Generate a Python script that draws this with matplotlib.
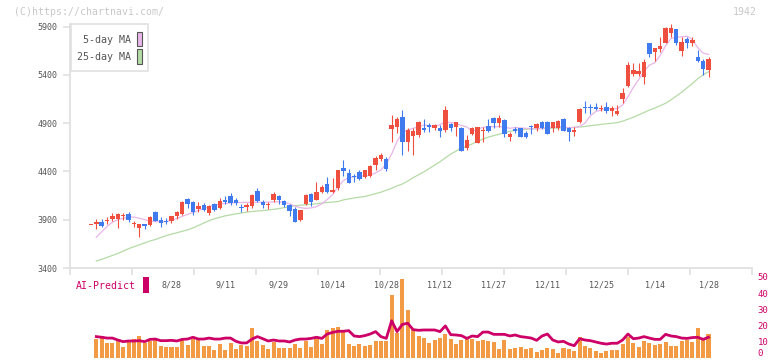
import numpy as np
import matplotlib
matplotlib.use('Agg')
import matplotlib.pyplot as plt
from matplotlib.patches import Rectangle
import matplotlib.transforms as mtransforms

nan = np.nan

# daily OHLC (index 0 .. 115)
opens = [3845, 3859, 3876, 3887, 3904, 3911, 3938, 3962, 3852, 3818,
         3859, 3845, 3980, 3897, 3887, 3887, 3942, 3962, 4114, 4083,
         4007, 4056, 3966, 4059, 4017, 4103, 4145, 4103, 4035, 4035,
         4041, 4197, 4086, 4052, 4104, 4148, 4093, 4052, 4010, 3896,
         4066, 4166, 4103, 4186, 4269, 4190, 4224, 4435, 4387, 4352,
         4393, 4345, 4352, 4466, 4525, 4525, 4839, 4856, 4960, 4708,
         4766, 4777, 4846, 4880, 4853, 4846, 4828, 4887, 4856, 4849,
         4639, 4784, 4698, 4815, 4870, 4956, 4905, 4932, 4760, 4836,
         4846, 4801, 4867, 4846, 4908, 4915, 4846, 4846, 4942, 4853,
         4804, 4908, 5063, 5063, 5063, 5046, 5063, 5029, 4994, 5146,
         5287, 5404, 5404, 5373, 5732, 5636, 5663, 5732, 5836, 5874,
         5646, 5770, 5732, 5587, 5546, 5449]
highs = [3848, 3907, 3907, 3931, 3966, 3966, 3966, 3976, 3890, 3855,
         3859, 3938, 3987, 3924, 3918, 3938, 3993, 4097, 4125, 4090,
         4087, 4069, 4049, 4073, 4128, 4145, 4179, 4121, 4059, 4076,
         4166, 4231, 4104, 4079, 4186, 4159, 4104, 4059, 4035, 4000,
         4166, 4179, 4293, 4259, 4342, 4335, 4414, 4518, 4421, 4373,
         4414, 4414, 4463, 4559, 4594, 4545, 4984, 4960, 5035, 4846,
         4846, 4925, 4942, 4897, 4890, 4880, 5080, 4904, 4915, 4856,
         4777, 4863, 4860, 4863, 4942, 4963, 4984, 4942, 4811, 4856,
         4853, 4818, 4880, 4898, 4922, 4922, 4915, 4932, 4949, 4856,
         4856, 5060, 5132, 5094, 5111, 5087, 5122, 5077, 5087, 5267,
         5536, 5525, 5518, 5560, 5732, 5674, 5787, 5898, 5926, 5874,
         5794, 5794, 5794, 5656, 5560, 5587]
lows = [3842, 3807, 3828, 3852, 3883, 3818, 3897, 3880, 3821, 3724,
        3800, 3838, 3883, 3821, 3859, 3862, 3904, 3952, 4021, 3952,
        3983, 3990, 3945, 3993, 4010, 4059, 4052, 4052, 3983, 3993,
        4024, 4086, 4024, 4010, 4086, 4059, 4035, 3941, 3879, 3890,
        4052, 4045, 4100, 4173, 4180, 4180, 4207, 4352, 4276, 4293,
        4311, 4335, 4338, 4414, 4511, 4404, 4708, 4801, 4570, 4614,
        4570, 4752, 4811, 4811, 4828, 4759, 4811, 4821, 4770, 4610,
        4622, 4777, 4695, 4708, 4811, 4853, 4863, 4753, 4718, 4794,
        4753, 4742, 4787, 4822, 4839, 4787, 4811, 4829, 4822, 4718,
        4770, 4901, 5001, 4991, 5035, 5029, 5008, 4977, 4984, 5104,
        5277, 5391, 5391, 5301, 5587, 5543, 5639, 5725, 5794, 5708,
        5598, 5674, 5698, 5529, 5398, 5380]
closes = [3845, 3876, 3838, 3897, 3938, 3959, 3952, 3893, 3862, 3855,
          3838, 3928, 3890, 3869, 3873, 3938, 3983, 4083, 4066, 3983,
          4042, 3997, 4042, 4004, 4093, 4086, 4069, 4069, 4017, 4052,
          4155, 4097, 4052, 4062, 4166, 4107, 4052, 3993, 3879, 3996,
          4155, 4079, 4186, 4238, 4190, 4210, 4414, 4407, 4283, 4338,
          4321, 4414, 4456, 4535, 4570, 4428, 4880, 4939, 4708, 4828,
          4815, 4915, 4828, 4856, 4880, 4821, 5035, 4846, 4908, 4614,
          4725, 4853, 4856, 4825, 4822, 4898, 4949, 4787, 4784, 4822,
          4760, 4760, 4856, 4891, 4846, 4787, 4908, 4922, 4822, 4808,
          4832, 5046, 5053, 5053, 5049, 5060, 5029, 5053, 5029, 5215,
          5501, 5449, 5439, 5536, 5612, 5674, 5698, 5888, 5888, 5732,
          5743, 5732, 5760, 5546, 5460, 5563]

ma5 = [nan, 3718, 3775, 3830, 3875, 3900, 3915, 3925, 3928, 3915,
       3900, 3885, 3880, 3878, 3880, 3895, 3912, 3935, 3955, 3975,
       3995, 4015, 4035, 4050, 4060, 4068, 4074, 4077, 4078, 4079,
       4080, 4080, 4081, 4082, 4084, 4086, 4080, 4065, 4040, 4025,
       4017, 4022, 4035, 4065, 4110, 4160, 4240, 4305, 4335, 4345,
       4352, 4355, 4360, 4385, 4414, 4480, 4580, 4710, 4800, 4830,
       4846, 4862, 4880, 4872, 4863, 4885, 4912, 4905, 4898, 4875,
       4860, 4815, 4840, 4855, 4863, 4863, 4863, 4860, 4846, 4854,
       4850, 4846, 4843, 4839, 4845, 4853, 4858, 4863, 4860, 4853,
       4855, 4865, 4900, 4975, 5020, 5035, 5049, 5049, 5050, 5087,
       5173, 5270, 5350, 5440, 5500, 5525, 5600, 5700, 5775, 5790,
       5794, 5800, 5765, 5680, 5625, 5611]
ma25 = [nan, 3472, 3490, 3510, 3530, 3550, 3575, 3600, 3620, 3640,
        3660, 3680, 3695, 3715, 3735, 3750, 3765, 3780, 3795, 3815,
        3840, 3865, 3890, 3910, 3925, 3940, 3950, 3960, 3970, 3978,
        3985, 3990, 3995, 4000, 4007, 4015, 4025, 4035, 4045, 4050,
        4055, 4060, 4065, 4072, 4078, 4083, 4088, 4105, 4115, 4125,
        4133, 4140, 4155, 4170, 4185, 4205, 4225, 4250, 4270, 4300,
        4335, 4365, 4395, 4430, 4465, 4500, 4540, 4580, 4610, 4645,
        4660, 4685, 4710, 4735, 4755, 4770, 4785, 4800, 4815, 4825,
        4832, 4836, 4840, 4842, 4844, 4846, 4848, 4849, 4851, 4853,
        4856, 4860, 4865, 4873, 4880, 4887, 4893, 4898, 4905, 4920,
        4940, 4960, 4985, 5010, 5035, 5055, 5080, 5105, 5140, 5180,
        5220, 5265, 5310, 5360, 5400, 5432]

volume = [nan, 11.7, 13.6, 9.5, 9.5, 11.1, 7.0, 9.7, 11.7, 13.6,
          9.1, 10.3, 11.1, 7.4, 6.8, 6.8, 6.8, 11.1, 8.2, 11.7,
          11.1, 7.4, 7.4, 4.9, 8.8, 4.9, 9.5, 5.6, 8.2, 7.4,
          18.5, 10.3, 8.2, 5.6, 9.7, 6.2, 6.2, 6.2, 8.8, 6.2,
          10.7, 7.0, 13.2, 8.8, 17.3, 18.5, 19.3, 15.8, 8.6, 7.4,
          8.6, 7.4, 8.2, 10.7, 10.3, 10.7, 38.9, 15.6, 48.8, 29.6,
          18.0, 13.7, 12.3, 9.1, 11.1, 12.3, 14.8, 11.7, 8.6, 11.1,
          12.3, 11.7, 10.7, 11.1, 10.5, 9.9, 5.6, 11.1, 5.6, 6.2,
          6.8, 5.6, 6.2, 3.7, 4.9, 6.2, 5.6, 3.1, 6.2, 5.6,
          4.3, 13.0, 7.4, 6.2, 4.3, 3.1, 4.3, 4.9, 4.9, 8.6,
          13.0, 9.3, 6.8, 10.5, 9.3, 8.0, 8.6, 9.9, 7.4, 7.4,
          10.5, 11.1, 9.9, 18.5, 11.1, 14.8]
ai_predict = [nan, 13.2, 12.8, 12.3, 12.3, 11.1, 10.1, 10.5, 10.5, 10.7,
              10.1, 11.5, 11.7, 10.7, 10.7, 10.9, 10.5, 11.5, 11.7, 12.8,
              11.7, 11.7, 12.3, 11.7, 11.7, 12.3, 12.3, 10.3, 9.3, 9.3,
              11.7, 13.2, 11.9, 10.5, 11.1, 10.5, 10.5, 9.9, 11.1, 11.7,
              11.7, 12.1, 12.8, 12.1, 14.8, 15.8, 16.5, 16.5, 16.9, 13.6,
              13.2, 13.8, 14.8, 16.3, 13.2, 12.1, 23.0, 16.3, 20.8, 21.4,
              17.5, 17.1, 17.3, 17.3, 17.3, 16.3, 19.8, 14.4, 14.2, 13.8,
              12.1, 13.6, 13.2, 16.0, 16.0, 14.6, 14.6, 14.6, 13.6, 14.2,
              13.2, 12.8, 12.3, 10.9, 13.6, 14.8, 11.1, 9.9, 10.3, 8.6,
              7.6, 11.9, 11.1, 10.7, 9.9, 9.1, 8.6, 9.1, 9.1, 11.1,
              14.8, 11.9, 12.3, 13.2, 12.3, 11.5, 11.5, 14.6, 13.6, 13.2,
              12.3, 12.1, 12.6, 12.8, 11.5, 12.8]

date_idx = [15, 25, 35, 45, 55, 65, 75, 85, 95, 105, 115]
date_labels = ['8/28', '9/11', '9/29', '10/14', '10/28', '11/12',
               '11/27', '12/11', '12/25', '1/14', '1/28']
price_ticks = [3400, 3900, 4400, 4900, 5400, 5900]
vol_ticks = [0, 10, 20, 30, 40, 50]

UP = '#ef4f3e'
DOWN = '#3f7bee'
PINK = '#e9b6ea'
GREEN = '#b5dba6'
CRIMSON = '#cc0066'
ORANGE = '#f39a45'
GRAY_TXT = '#555555'
AXIS = '#e0e0e0'
MONO = 'DejaVu Sans Mono'

W, H = 772, 361
fig = plt.figure(figsize=(W / 100, H / 100), dpi=100)

def px_box(x0, y0, x1, y1):
    return [x0 / W, 1 - y1 / H, (x1 - x0) / W, (y1 - y0) / H]

x = np.arange(len(closes))
o = np.array(opens, float)
c = np.array(closes, float)
hi = np.array(highs, float)
lo = np.array(lows, float)
colors = np.where(c >= o, UP, DOWN)
xmin, xmax = -3.9, 123.1

# ---- volume / AI panel (drawn first so the price-axis labels sit on top)
ax2 = fig.add_axes(px_box(70, 277, 752, 358))
ax2.patch.set_alpha(0)
ax2.bar(x, volume, width=0.75, color=ORANGE, zorder=1)
ax2.plot(x, ai_predict, color=CRIMSON, lw=2.0, zorder=2)
ax2.set_xlim(xmin, xmax)
ax2.set_ylim(0, 50)
for s in ax2.spines.values():
    s.set_visible(False)
ax2.set_xticks([])
ax2.yaxis.tick_right()
ax2.set_yticks(vol_ticks)
ax2.set_yticklabels([str(t) for t in vol_ticks], fontsize=6.5, family=MONO,
                    color=CRIMSON)
ax2.tick_params(axis='y', length=0, pad=4)
ax2.get_yticklabels()[0].set_va('bottom')

# ---- price panel
ax = fig.add_axes(px_box(70, 24, 752, 268))
ax.plot(x, ma25, color=GREEN, lw=0.9, zorder=1)
ax.plot(x, ma5, color=PINK, lw=0.9, zorder=1)
ax.vlines(x, lo, hi, colors=colors, lw=0.8, zorder=2)
ax.bar(x, np.maximum(np.abs(c - o), 9), bottom=np.minimum(o, c), width=0.82,
       color=colors, zorder=3)
ax.set_xlim(xmin, xmax)
ax.set_ylim(3400, 5926)
for s in ['top', 'right']:
    ax.spines[s].set_visible(False)
for s in ['left', 'bottom']:
    ax.spines[s].set_color(AXIS)
    ax.spines[s].set_linewidth(1.3)
ax.set_xticks(np.linspace(xmin, xmax, 12))
ax.set_xticklabels([])
ax.set_yticks(price_ticks)
ax.set_yticklabels([str(t) for t in price_ticks], fontsize=6, family=MONO,
                   color=GRAY_TXT)
ax.tick_params(axis='both', color=AXIS, length=5, width=1.2)
ax.tick_params(axis='y', pad=4)
trans = mtransforms.blended_transform_factory(ax.transData, ax.transAxes)
for i, lab in zip(date_idx, date_labels):
    ax.text(i, -0.069, lab, transform=trans, ha='center', va='center',
            fontsize=6, family=MONO, color=GRAY_TXT, clip_on=False)

# ---- overlay: legend, labels, watermark
ov = fig.add_axes([0, 0, 1, 1], zorder=10)
ov.set_xlim(0, W)
ov.set_ylim(H, 0)
ov.axis('off')
ov.patch.set_alpha(0)
ov.add_patch(Rectangle((70.5, 24), 77.5, 47, facecolor='white',
                       edgecolor=AXIS, lw=1.2))
ov.text(131, 40, '5-day MA', ha='right', va='center', fontsize=7.2,
        family=MONO, color=GRAY_TXT)
ov.text(131, 57, '25-day MA', ha='right', va='center', fontsize=7.2,
        family=MONO, color=GRAY_TXT)
ov.add_patch(Rectangle((136.5, 31.5), 5.5, 14.5, facecolor=PINK,
                       edgecolor='#555555', lw=0.8))
ov.add_patch(Rectangle((136.5, 49), 5.5, 14.5, facecolor=GREEN,
                       edgecolor='#555555', lw=0.8))
ov.text(76, 286, 'AI-Predict', ha='left', va='center', fontsize=7.1,
        family=MONO, color=CRIMSON)
ov.add_patch(Rectangle((142.5, 277), 6.5, 16, facecolor=CRIMSON,
                       edgecolor='none'))
ov.text(14, 12, '(C)https://chartnavi.com/', ha='left', va='center',
        fontsize=7.1, family=MONO, color='#c8c8c8')
ov.text(757, 12, '1942', ha='right', va='center', fontsize=7.1,
        family=MONO, color='#c8c8c8')

fig.savefig('out.png', dpi=100)
